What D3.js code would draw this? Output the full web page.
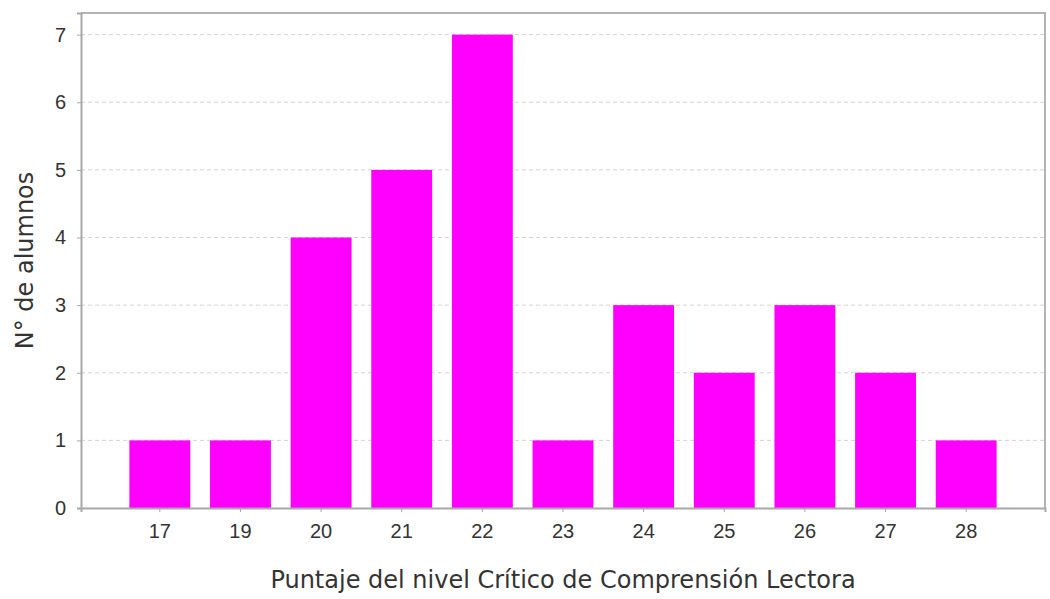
<!DOCTYPE html>
<html>
<head>
<meta charset="utf-8">
<script src="https://cdn.jsdelivr.net/npm/d3@7"></script>
<style>
  body { margin: 0; background: #fff; }
  text { font-family: "DejaVu Sans", sans-serif; fill: #333; }
</style>
</head>
<body>
<div id="chart"></div>
<script>
// data
var puntajes = ["17", "19", "20", "21", "22", "23", "24", "25", "26", "27", "28"];
var alumnos = [1, 1, 4, 5, 7, 1, 3, 2, 3, 2, 1];
var yTicks = [0, 1, 2, 3, 4, 5, 6, 7];

var svgWidth = 1050;
var svgHeight = 599;

var margin = { top: 13, right: 5, bottom: 91, left: 81 };
var width = svgWidth - margin.left - margin.right;
var height = svgHeight - margin.top - margin.bottom;

var svg = d3.select("#chart")
  .append("svg")
  .attr("width", svgWidth)
  .attr("height", svgHeight);

var chartGroup = svg.append("g")
  .attr("transform", `translate(${margin.left}, ${margin.top})`);

var xScale = d3.scaleBand()
  .domain(puntajes)
  .range([0, width])
  .paddingInner(0.245)
  .paddingOuter(0.6);

var yScale = d3.scaleLinear()
  .domain([0, 7.32])
  .range([height, 0]);

// dashed grid lines
chartGroup.selectAll(".grid")
  .data(yTicks.filter(d => d > 0))
  .enter()
  .append("line")
  .attr("x1", 0)
  .attr("x2", width)
  .attr("y1", d => yScale(d))
  .attr("y2", d => yScale(d))
  .attr("stroke", "#d4d4d4")
  .attr("stroke-width", 1)
  .attr("stroke-dasharray", "4,3");

// bars
chartGroup.selectAll("rect.bar")
  .data(alumnos)
  .enter()
  .append("rect")
  .attr("class", "bar")
  .attr("x", (d, i) => xScale(puntajes[i]))
  .attr("y", d => yScale(d))
  .attr("width", xScale.bandwidth())
  .attr("height", d => height - yScale(d))
  .attr("fill", "#ff00ff");

// plot outline (top and right)
chartGroup.append("path")
  .attr("d", `M0,0H${width}V${height}`)
  .attr("fill", "none")
  .attr("stroke", "#b4b4b4")
  .attr("stroke-width", 2);

// axes
var bottomAxis = d3.axisBottom(xScale).tickSize(4).tickPadding(12);
var leftAxis = d3.axisLeft(yScale).tickValues(yTicks).tickSize(4).tickPadding(11);

var xAxis = chartGroup.append("g")
  .attr("transform", `translate(0, ${height})`)
  .call(bottomAxis);

var yAxis = chartGroup.append("g")
  .call(leftAxis);

[xAxis, yAxis].forEach(function(ax) {
  ax.select(".domain").attr("stroke", "#a8a8a8").attr("stroke-width", 2);
  ax.selectAll(".tick line").attr("stroke", "#a8a8a8");
  ax.selectAll(".tick text")
    .style("font-family", "Liberation Sans, Arial, sans-serif")
    .style("font-size", "20px")
    .attr("fill", "#222");
});

// axis titles
chartGroup.append("text")
  .attr("x", width / 2)
  .attr("y", height + 80)
  .attr("text-anchor", "middle")
  .style("font-size", "24px")
  .attr("fill", "#444")
  .text("Puntaje del nivel Crítico de Comprensión Lectora");

chartGroup.append("text")
  .attr("transform", "rotate(-90)")
  .attr("x", 0 - (height / 2))
  .attr("y", 0 - margin.left + 33)
  .attr("text-anchor", "middle")
  .style("font-size", "24px")
  .attr("fill", "#444")
  .text("N° de alumnos");
</script>
</body>
</html>
